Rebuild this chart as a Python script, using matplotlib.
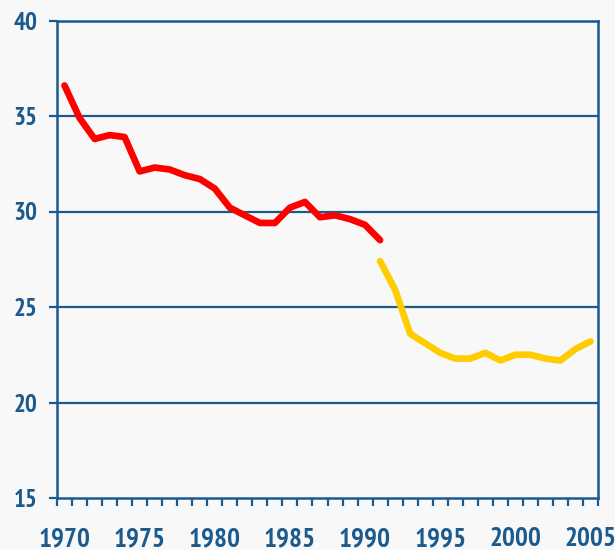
import matplotlib.pyplot as plt
import numpy as np
from matplotlib import font_manager

# values
years_red = list(range(1970, 1992))
values_red = [36.6, 34.9, 33.8, 34.0, 33.9, 32.1, 32.3, 32.2, 31.9, 31.7,
              31.2, 30.2, 29.8, 29.4, 29.4, 30.2, 30.5, 29.7, 29.8, 29.6,
              29.3, 28.5]
years_yellow = list(range(1991, 2006))
values_yellow = [27.4, 25.9, 23.6, 23.1, 22.6, 22.3, 22.3, 22.6, 22.2, 22.5,
                 22.5, 22.3, 22.2, 22.8, 23.2]
x_labels = [1970, 1975, 1980, 1985, 1990, 1995, 2000, 2005]
y_ticks = [15, 20, 25, 30, 35, 40]

blue = '#1a5a8e'
bg = '#f8f8f8'


def find_face(key):
    for f in font_manager.fontManager.ttflist:
        fn = f.fname.lower()
        if key in fn and 'bold' in fn and 'oblique' not in fn and 'italic' not in fn:
            return f.fname
    return None


# the reference uses a narrow bold face
narrow = find_face('narrow')
if narrow:
    fp_x = font_manager.FontProperties(fname=narrow, size=19.5)
    fp_y = font_manager.FontProperties(fname=narrow, size=18)
else:
    cond = find_face('condensed')
    if cond:
        fp_x = font_manager.FontProperties(fname=cond, size=16)
        fp_y = font_manager.FontProperties(fname=cond, size=15.5)
    else:
        fp_x = font_manager.FontProperties(family=['Liberation Sans', 'DejaVu Sans'],
                                           weight='bold', size=16)
        fp_y = font_manager.FontProperties(family=['Liberation Sans', 'DejaVu Sans'],
                                           weight='bold', size=16)

fig = plt.figure(figsize=(6.15, 5.5), dpi=100, facecolor=bg)
ax = fig.add_axes([57 / 615, 52 / 550, 541 / 615, 477.5 / 550])
ax.set_facecolor(bg)

for y in y_ticks[1:]:
    ax.axhline(y, color=blue, lw=1.6, zorder=1)

ax.plot(years_red, values_red, color='#ff0000', lw=4.8,
        solid_capstyle='round', solid_joinstyle='round', zorder=3)
ax.plot(years_yellow, values_yellow, color='#ffcc00', lw=4.8,
        solid_capstyle='round', solid_joinstyle='round', zorder=3)

ax.set_xlim(1969.5, 2005.5)
ax.set_ylim(15, 40)

for s in ['left', 'bottom', 'right', 'top']:
    ax.spines[s].set_color(blue)
    ax.spines[s].set_linewidth(1.8)

ax.set_yticks(y_ticks)
ax.set_yticklabels([str(v) for v in y_ticks], fontproperties=fp_y)
ax.tick_params(axis='y', length=6, width=1.6, color=blue, labelcolor=blue, pad=8)

ax.set_xticks(x_labels)
ax.set_xticklabels([str(v) for v in x_labels], fontproperties=fp_x)
ax.set_xticks(np.arange(1969.5, 2006, 1.0), minor=True)
ax.tick_params(axis='x', which='major', length=0, labelcolor=blue, pad=21)
ax.tick_params(axis='x', which='minor', length=6, width=1.6, color=blue)

fig.savefig('out.png', dpi=100, facecolor=bg)
